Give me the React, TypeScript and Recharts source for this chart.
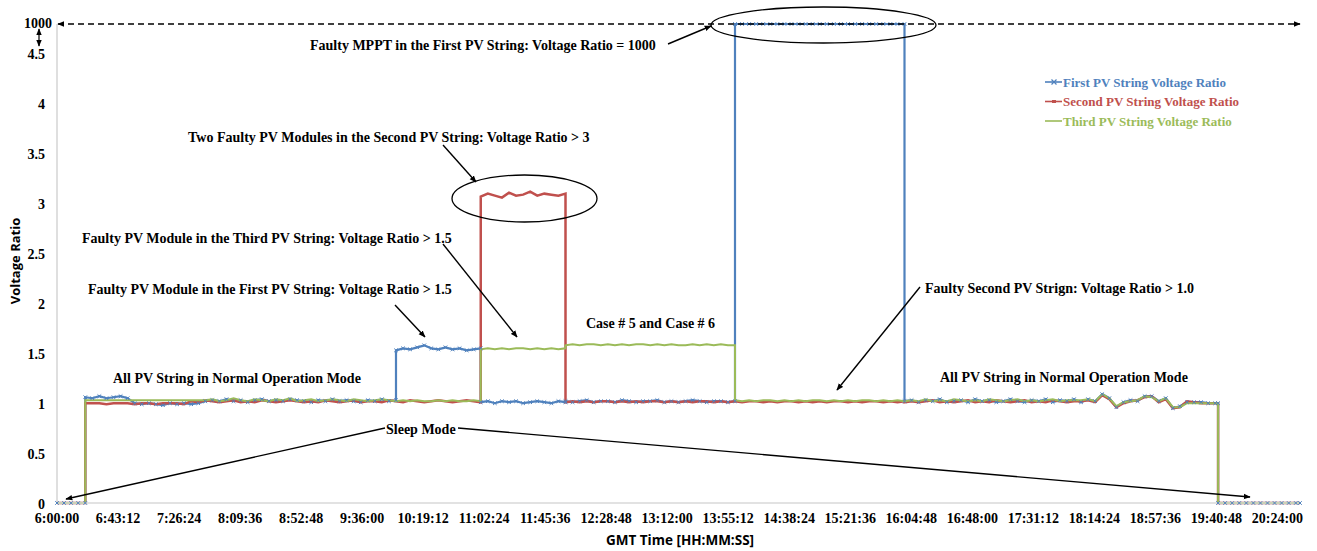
import React from 'react';
import { LineChart, Line, XAxis, YAxis } from 'recharts';

const W = 1317;
const H = 551;
const SERIF = "'Liberation Serif','Times New Roman',serif";
const SANS = "'Open Sans','DejaVu Sans',sans-serif";

const seriesNames = [
  'First PV String Voltage Ratio',
  'Second PV String Voltage Ratio',
  'Third PV String Voltage Ratio',
];
const seriesColors = ['#4F81BD', '#C0504D', '#9BBB59'];

const xTickLabels = [
  '6:00:00', '6:43:12', '7:26:24', '8:09:36', '8:52:48', '9:36:00', '10:19:12',
  '11:02:24', '11:45:36', '12:28:48', '13:12:00', '13:55:12', '14:38:24', '15:21:36',
  '16:04:48', '16:48:00', '17:31:12', '18:14:24', '18:57:36', '19:40:48', '20:24:00',
];
const yTickValues = [0, 0.5, 1, 1.5, 2, 2.5, 3, 3.5, 4, 4.5, 1000];

// sampling segments in minutes since midnight (5-minute samples, events at segment edges)
const SAMPLE_STEP_MIN = 5;
const segmentBoundsMin: [number, number][] = [
  [360, 380], [380, 600], [600, 660], [660, 720], [720, 840], [840, 960], [960, 1182], [1182, 1240],
];

const firstString = [
  0, 0, 0, 0, 0,
  1.06, 1.05, 1.07, 1.05, 1.06, 1.07, 1.05, 1.0, 0.99, 1.0, 0.99, 0.98, 1.0, 0.99, 1.0, 0.99, 1.0,
  1.02, 1.03, 1.02, 1.04, 1.02, 1.03, 1.01, 1.03, 1.04, 1.02, 1.03, 1.02, 1.04, 1.03, 1.02, 1.01,
  1.03, 1.02, 1.04, 1.02, 1.03, 1.02, 1.01, 1.03, 1.02, 1.04, 1.02, 1.03,
  1.53, 1.55, 1.54, 1.56, 1.58, 1.55, 1.54, 1.56, 1.54, 1.55, 1.53, 1.54, 1.55,
  1.01, 1.02, 1.0, 1.02, 1.01, 1.02, 1.0, 1.01, 1.02, 1.01, 1.0, 1.02, 1.01,
  1.02, 1.01, 1.02, 1.03, 1.01, 1.02, 1.02, 1.01, 1.03, 1.02, 1.01, 1.02, 1.02, 1.03, 1.01, 1.02,
  1.01, 1.02, 1.03, 1.02, 1.01, 1.02, 1.02, 1.01, 1.02,
  1000, 1000, 1000, 1000, 1000, 1000, 1000, 1000, 1000, 1000, 1000, 1000, 1000, 1000, 1000, 1000,
  1000, 1000, 1000, 1000, 1000, 1000, 1000, 1000, 1000,
  1.02, 1.03, 1.01, 1.03, 1.02, 1.04, 1.01, 1.02, 1.03, 1.01, 1.04, 1.02, 1.03, 1.01, 1.02, 1.04,
  1.02, 1.01, 1.03, 1.02, 1.04, 1.01, 1.03, 1.02, 1.04,
  1.01, 1.04, 1.02, 1.09, 1.05, 0.96, 1.01, 1.03, 1.02, 1.07, 1.07, 1.02, 1.05, 0.95, 0.97,
  1.01, 1.01, 1.01, 1.0, 1.0, 1.0,
  0, 0, 0, 0, 0, 0, 0, 0, 0, 0, 0, 0, 0,
];

const secondString = [
  0, 0, 0, 0, 0,
  1.0, 1.0, 1.0, 0.99, 1.0, 1.0, 1.0, 0.99, 1.0, 1.0, 0.99, 1.0, 1.0, 1.0, 0.99,
  1.02, 1.01, 1.03, 1.02, 1.01, 1.02, 1.03, 1.01, 1.02, 1.01, 1.03, 1.02, 1.01, 1.02, 1.03,
  1.02, 1.01, 1.02, 1.01, 1.03, 1.02, 1.01, 1.02, 1.03, 1.01, 1.02, 1.02, 1.01, 1.03, 1.02,
  1.02, 1.01, 1.03, 1.02, 1.01, 1.02, 1.03, 1.02, 1.01, 1.02, 1.03, 1.02, 1.01,
  3.07, 3.1, 3.08, 3.06, 3.11, 3.08, 3.09, 3.12, 3.08, 3.1, 3.09, 3.08, 3.1,
  1.01, 1.02, 1.01, 1.02, 1.01, 1.02, 1.02, 1.01, 1.02, 1.01, 1.02, 1.01, 1.02, 1.02, 1.01, 1.02,
  1.01, 1.02, 1.01, 1.02, 1.02, 1.01, 1.02, 1.01, 1.02,
  1.02, 1.01, 1.02, 1.02, 1.01, 1.02, 1.01, 1.02, 1.02, 1.01, 1.02, 1.01, 1.02, 1.01, 1.02, 1.02,
  1.01, 1.02, 1.01, 1.02, 1.02, 1.01, 1.02, 1.01, 1.02,
  1.01, 1.02, 1.01, 1.02, 1.03, 1.01, 1.02, 1.01, 1.02, 1.03, 1.01, 1.02, 1.01, 1.03, 1.02, 1.01,
  1.02, 1.03, 1.01, 1.02, 1.01, 1.03, 1.02, 1.01, 1.02,
  1.02, 1.03, 1.01, 1.08, 1.04, 0.96, 1.0, 1.02, 1.03, 1.06, 1.07, 1.01, 1.04, 0.95, 0.96,
  1.02, 1.01, 1.0, 1.0, 1.0, 1.0,
  0, 0, 0, 0, 0, 0, 0, 0, 0, 0, 0, 0, 0,
];

const thirdString = [
  0, 0, 0, 0, 0,
  1.03, 1.03, 1.03, 1.03, 1.03, 1.03, 1.03, 1.03, 1.03, 1.03, 1.03, 1.03, 1.03, 1.03, 1.03, 1.03, 1.03,
  1.03, 1.04, 1.02, 1.03, 1.05, 1.03, 1.02, 1.04, 1.03, 1.02, 1.04, 1.03, 1.05, 1.02, 1.03, 1.04,
  1.02, 1.03, 1.04, 1.03, 1.02, 1.04, 1.03, 1.02, 1.03, 1.04, 1.03, 1.02,
  1.02, 1.03, 1.02, 1.03, 1.02, 1.02, 1.03, 1.02, 1.03, 1.02, 1.02, 1.03, 1.02,
  1.54, 1.55, 1.54, 1.55, 1.54, 1.55, 1.55, 1.54, 1.55, 1.54, 1.55, 1.54, 1.55,
  1.58, 1.59, 1.58, 1.59, 1.59, 1.58, 1.59, 1.58, 1.59, 1.58, 1.59, 1.59, 1.58, 1.59, 1.58, 1.59,
  1.58, 1.58, 1.59, 1.58, 1.59, 1.58, 1.59, 1.58, 1.58,
  1.03, 1.02, 1.03, 1.02, 1.03, 1.03, 1.02, 1.03, 1.02, 1.03, 1.02, 1.03, 1.03, 1.02, 1.03, 1.02,
  1.03, 1.02, 1.03, 1.03, 1.02, 1.03, 1.02, 1.03, 1.02,
  1.02, 1.03, 1.02, 1.04, 1.02, 1.03, 1.02, 1.04, 1.03, 1.02, 1.03, 1.02, 1.04, 1.03, 1.02, 1.03,
  1.04, 1.02, 1.03, 1.02, 1.03, 1.04, 1.02, 1.03, 1.03,
  1.03, 1.04, 1.02, 1.09, 1.05, 0.97, 1.01, 1.02, 1.03, 1.07, 1.06, 1.02, 1.05, 0.96, 0.96,
  1.0, 1.0, 1.0, 1.0, 1.0, 1.0,
  0, 0, 0, 0, 0, 0, 0, 0, 0, 0, 0, 0, 0,
];

// broken axis: values above 4.5 (the 1000 MPPT fault) are drawn at the top break position
const BREAK_POS = 4.8;
const brk = (v: number) => (v > 4.5 ? BREAK_POS : v);

const toMin = (s: string) => {
  const [h, m, sec] = s.split(':').map(Number);
  return h * 60 + m + sec / 60;
};

const times: number[] = [];
segmentBoundsMin.forEach(([a, b]) => {
  for (let t = a; t < b; t += SAMPLE_STEP_MIN) times.push(t);
  times.push(b);
});

const rows = times.map((t, i) => ({
  t,
  first: firstString[i],
  second: secondString[i],
  third: thirdString[i],
}));

const xTicks = xTickLabels.map(toMin);

const XTick = (props: any) => {
  const { x, payload } = props;
  const idx = xTicks.findIndex((v) => Math.abs(v - payload.value) < 1e-6);
  return (
    <text x={x} y={518} textAnchor="middle" dominantBaseline="central" fontFamily={SERIF}
      fontWeight="bold" fontSize={14} fill="#000">
      {idx >= 0 ? xTickLabels[idx] : ''}
    </text>
  );
};

const YTick = (props: any) => {
  const { y, payload } = props;
  const isBreak = payload.value === BREAK_POS;
  return (
    <text x={isBreak ? 52 : 45} y={isBreak ? y - 1 : y + 1} textAnchor="end" dominantBaseline="central"
      fontFamily={SERIF} fontWeight="bold" fontSize={14} fill="#000">
      {isBreak ? '1000' : String(payload.value)}
    </text>
  );
};

const BlueMark = (props: any) => {
  const { cx, cy } = props;
  if (cx == null || cy == null || isNaN(cx) || isNaN(cy)) return <g />;
  const s = 1.8;
  return (
    <path d={`M${cx - s},${cy - s}L${cx + s},${cy + s}M${cx - s},${cy + s}L${cx + s},${cy - s}`}
      stroke={seriesColors[0]} strokeWidth={1} fill="none" />
  );
};

type Ann = { text: string; x: number; y: number };
const annotations: Ann[] = [
  { text: 'Faulty MPPT in the First PV String: Voltage Ratio = 1000', x: 310, y: 45 },
  { text: 'Two Faulty PV Modules in the Second PV String: Voltage Ratio > 3', x: 188, y: 137 },
  { text: 'Faulty PV Module in the Third PV String: Voltage Ratio > 1.5', x: 82, y: 238 },
  { text: 'Faulty PV Module in the First PV String: Voltage Ratio > 1.5', x: 88, y: 289 },
  { text: 'Case # 5 and Case # 6', x: 586, y: 323 },
  { text: 'Faulty Second PV Strign: Voltage Ratio > 1.0', x: 925, y: 288 },
  { text: 'All PV String in Normal Operation Mode', x: 113, y: 378 },
  { text: 'All PV String in Normal Operation Mode', x: 940, y: 377 },
  { text: 'Sleep Mode', x: 386, y: 429 },
];

const arrows: [number, number, number, number][] = [
  [668, 44, 711, 26],
  [443, 145, 476, 182],
  [443, 244, 517, 337],
  [395, 305, 425, 337],
  [920, 287, 837, 390],
  [385, 428, 66, 499],
  [458, 428, 1250, 497],
];

export default function App() {
  return (
    <div style={{ position: 'absolute', left: 0, top: 0, width: W, height: H, background: '#fff' }}>
      <LineChart width={W} height={H} data={rows} margin={{ top: 24, right: 17, left: 0, bottom: 0 }}>
        <XAxis type="number" dataKey="t" domain={[360, 1240]} ticks={xTicks} interval={0}
          tick={<XTick />} tickLine={false} axisLine={{ stroke: '#d9d9d9', strokeWidth: 1.5 }} height={48} />
        <YAxis type="number" domain={[0, BREAK_POS]} ticks={yTickValues.map(brk)} interval={0}
          tick={<YTick />} tickLine={false} axisLine={{ stroke: '#bfbfbf' }} width={57} />
        <Line type="linear" dataKey={(d: any) => brk(d.first)} name={seriesNames[0]}
          stroke={seriesColors[0]} strokeWidth={2.2} dot={<BlueMark />} isAnimationActive={false} />
        <Line type="linear" dataKey={(d: any) => brk(d.second)} name={seriesNames[1]}
          stroke={seriesColors[1]} strokeWidth={2.5} dot={false} isAnimationActive={false} />
        <Line type="linear" dataKey={(d: any) => brk(d.third)} name={seriesNames[2]}
          stroke={seriesColors[2]} strokeWidth={2} dot={false} isAnimationActive={false} />
      </LineChart>
      <svg width={W} height={H} style={{ position: 'absolute', left: 0, top: 0, pointerEvents: 'none' }}>
        <defs>
          <marker id="ah" viewBox="0 0 10 10" refX="9" refY="5" markerWidth="7" markerHeight="7"
            orient="auto-start-reverse" markerUnits="userSpaceOnUse">
            <path d="M0,1 L10,5 L0,9 z" fill="#000" />
          </marker>
        </defs>
        {/* axis break indicators */}
        <line x1={58} y1={24} x2={1300} y2={24} stroke="#000" strokeWidth={1.3} strokeDasharray="6 4"
          markerStart="url(#ah)" markerEnd="url(#ah)" />
        <line x1={39} y1={29} x2={39} y2={46} stroke="#000" strokeWidth={1.2}
          markerStart="url(#ah)" markerEnd="url(#ah)" />
        <ellipse cx={823.5} cy={25} rx={112.5} ry={18} fill="none" stroke="#000" strokeWidth={1.3} />
        <ellipse cx={524.5} cy={198.5} rx={72.5} ry={23.5} fill="none" stroke="#000" strokeWidth={1.3} />
        {arrows.map(([x1, y1, x2, y2], i) => (
          <line key={i} x1={x1} y1={y1} x2={x2} y2={y2} stroke="#000" strokeWidth={1.4} markerEnd="url(#ah)" />
        ))}
        {annotations.map((a, i) => (
          <text key={i} x={a.x} y={a.y} dominantBaseline="central" fontFamily={SERIF} fontWeight="bold"
            fontSize={14} fill="#000">{a.text}</text>
        ))}
        {/* legend */}
        {seriesNames.map((n, i) => {
          const y = 82 + i * 19.5;
          return (
            <g key={n}>
              <line x1={1045} y1={y} x2={1062} y2={y} stroke={seriesColors[i]} strokeWidth={1.6} />
              {i === 0 && (
                <path d={`M1051.5,${y - 2.5}L1056.5,${y + 2.5}M1051.5,${y + 2.5}L1056.5,${y - 2.5}`}
                  stroke={seriesColors[0]} strokeWidth={1.2} />
              )}
              {i === 1 && <rect x={1052} y={y - 1.5} width={4} height={3} fill={seriesColors[1]} />}
              <text x={1063} y={y} dominantBaseline="central" fontFamily={SERIF} fontWeight="bold"
                fontSize={13} fill={seriesColors[i]}>{n}</text>
            </g>
          );
        })}
        {/* axis titles */}
        <text x={680} y={540} textAnchor="middle" dominantBaseline="central" fontFamily={SANS}
          fontWeight="bold" fontSize={13.5} fill="#000">GMT Time [HH:MM:SS]</text>
        <text x={15} y={261} textAnchor="middle" dominantBaseline="central" fontFamily={SANS}
          fontWeight="bold" fontSize={13} fill="#000" transform="rotate(-90 15 261)">Voltage Ratio</text>
      </svg>
    </div>
  );
}
